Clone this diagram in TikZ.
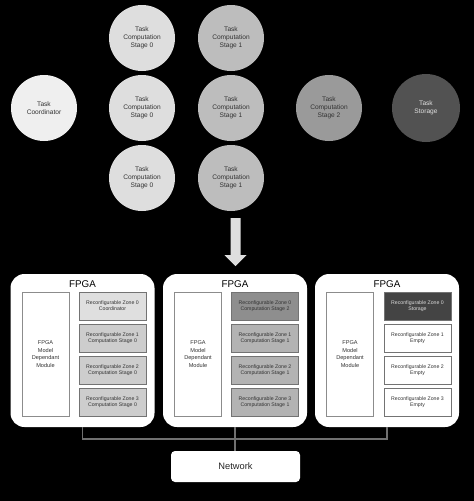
\documentclass[tikz,border=0pt]{standalone}
\usepackage{fontspec}
\setmainfont{Liberation Sans}
\definecolor{coordgray}{HTML}{EFEFEF}
\definecolor{stagezero}{HTML}{DEDEDE}
\definecolor{stageone}{HTML}{BDBDBD}
\definecolor{stagetwo}{HTML}{9A9A9A}
\definecolor{storegray}{HTML}{525252}
\definecolor{zonecoord}{HTML}{DFDFDF}
\definecolor{zonezero}{HTML}{CDCDCD}
\definecolor{zoneone}{HTML}{B3B3B3}
\definecolor{zonetwo}{HTML}{8E8E8E}
\definecolor{zonestore}{HTML}{444444}
\definecolor{linegray}{HTML}{707070}
\tikzset{
  task/.style={circle,minimum size=66pt,inner sep=0pt,align=center,
    text=black!80,font=\fontsize{6.6}{7.8}\selectfont},
  fpga/.style={draw=none,fill=white,rounded corners=14pt,
    minimum width=144pt,minimum height=153pt},
  fpgatitle/.style={font=\fontsize{9.8}{11}\selectfont},
  module/.style={draw=black!45,fill=white,line width=0.8pt,minimum width=47pt,
    minimum height=124pt,align=center,text=black!80,
    font=\fontsize{5.6}{7.4}\selectfont},
  zone/.style={draw=black!55,line width=0.8pt,minimum width=67pt,
    minimum height=28pt,inner sep=0pt,align=center,text=black!80,
    font=\fontsize{5.2}{6}\selectfont},
  link/.style={draw=linegray,line width=1.2pt}
}
\begin{document}
\begin{tikzpicture}[x=1pt,y=-1pt]
  \fill[black] (0,0) rectangle (474,501);
  % task graph
  \node[task,fill=coordgray] (coord) at (44,108) {Task\\Coordinator};
  \node[task,fill=stagezero] (zeroa) at (142,38) {Task\\Computation\\Stage 0};
  \node[task,fill=stagezero] (zerob) at (142,108) {Task\\Computation\\Stage 0};
  \node[task,fill=stagezero] (zeroc) at (142,178) {Task\\Computation\\Stage 0};
  \node[task,fill=stageone] (onea) at (231,38) {Task\\Computation\\Stage 1};
  \node[task,fill=stageone] (oneb) at (231,108) {Task\\Computation\\Stage 1};
  \node[task,fill=stageone] (onec) at (231,178) {Task\\Computation\\Stage 1};
  \node[task,fill=stagetwo] (two) at (329,108) {Task\\Computation\\Stage 2};
  \node[task,fill=storegray,minimum size=68pt,text=black!12] (store) at (426,108) {Task\\Storage};
  % mapping arrow
  \fill[stagezero] (230.5,218) -- (240.5,218) -- (240.5,255) -- (246.5,255)
    -- (235.5,266) -- (224.5,255) -- (230.5,255) -- cycle;
  % FPGA boards
  \node[fpga] (fa) at (82.5,350.5) {};
  \node[fpga] (fb) at (235,350.5) {};
  \node[fpga] (fc) at (387,350.5) {};
  \node[fpgatitle] (ta) at (82.5,284) {FPGA};
  \node[fpgatitle] (tb) at (235,284) {FPGA};
  \node[fpgatitle] (tc) at (387,284) {FPGA};
  \node[module] (ma) at (45.5,354) {FPGA\\Model\\Dependant\\Module};
  \node[module] (mb) at (198,354) {FPGA\\Model\\Dependant\\Module};
  \node[module] (mc) at (350,354) {FPGA\\Model\\Dependant\\Module};
  \node[zone,fill=zonecoord] (zaa) at (112.5,306) {Reconfigurable Zone 0\\Coordinator};
  \node[zone,fill=zonezero] (zab) at (112.5,338) {Reconfigurable Zone 1\\Computation Stage 0};
  \node[zone,fill=zonezero] (zac) at (112.5,370) {Reconfigurable Zone 2\\Computation Stage 0};
  \node[zone,fill=zonezero] (zad) at (112.5,402) {Reconfigurable Zone 3\\Computation Stage 0};
  \node[zone,fill=zonetwo] (zba) at (265,306) {Reconfigurable Zone 0\\Computation Stage 2};
  \node[zone,fill=zoneone] (zbb) at (265,338) {Reconfigurable Zone 1\\Computation Stage 1};
  \node[zone,fill=zoneone] (zbc) at (265,370) {Reconfigurable Zone 2\\Computation Stage 1};
  \node[zone,fill=zoneone] (zbd) at (265,402) {Reconfigurable Zone 3\\Computation Stage 1};
  \node[zone,fill=zonestore,text=black!15] (zca) at (417.5,306) {Reconfigurable Zone 0\\Storage};
  \node[zone,fill=white] (zcb) at (417.5,338) {Reconfigurable Zone 1\\Empty};
  \node[zone,fill=white] (zcc) at (417.5,370) {Reconfigurable Zone 2\\Empty};
  \node[zone,fill=white] (zcd) at (417.5,402) {Reconfigurable Zone 3\\Empty};
  % network
  \node[fill=white,rounded corners=4pt,minimum width=129pt,minimum height=31pt,
    font=\fontsize{9.3}{10}\selectfont,text=black!85] (net) at (235.5,466.5) {Network};
  \coordinate (bus) at (235,439);
  \draw[link] (fa.south) -- (fa.south |- bus) -| (fc.south);
  \draw[link] (fb.south) -- (net.north -| fb.south);
\end{tikzpicture}
\end{document}
